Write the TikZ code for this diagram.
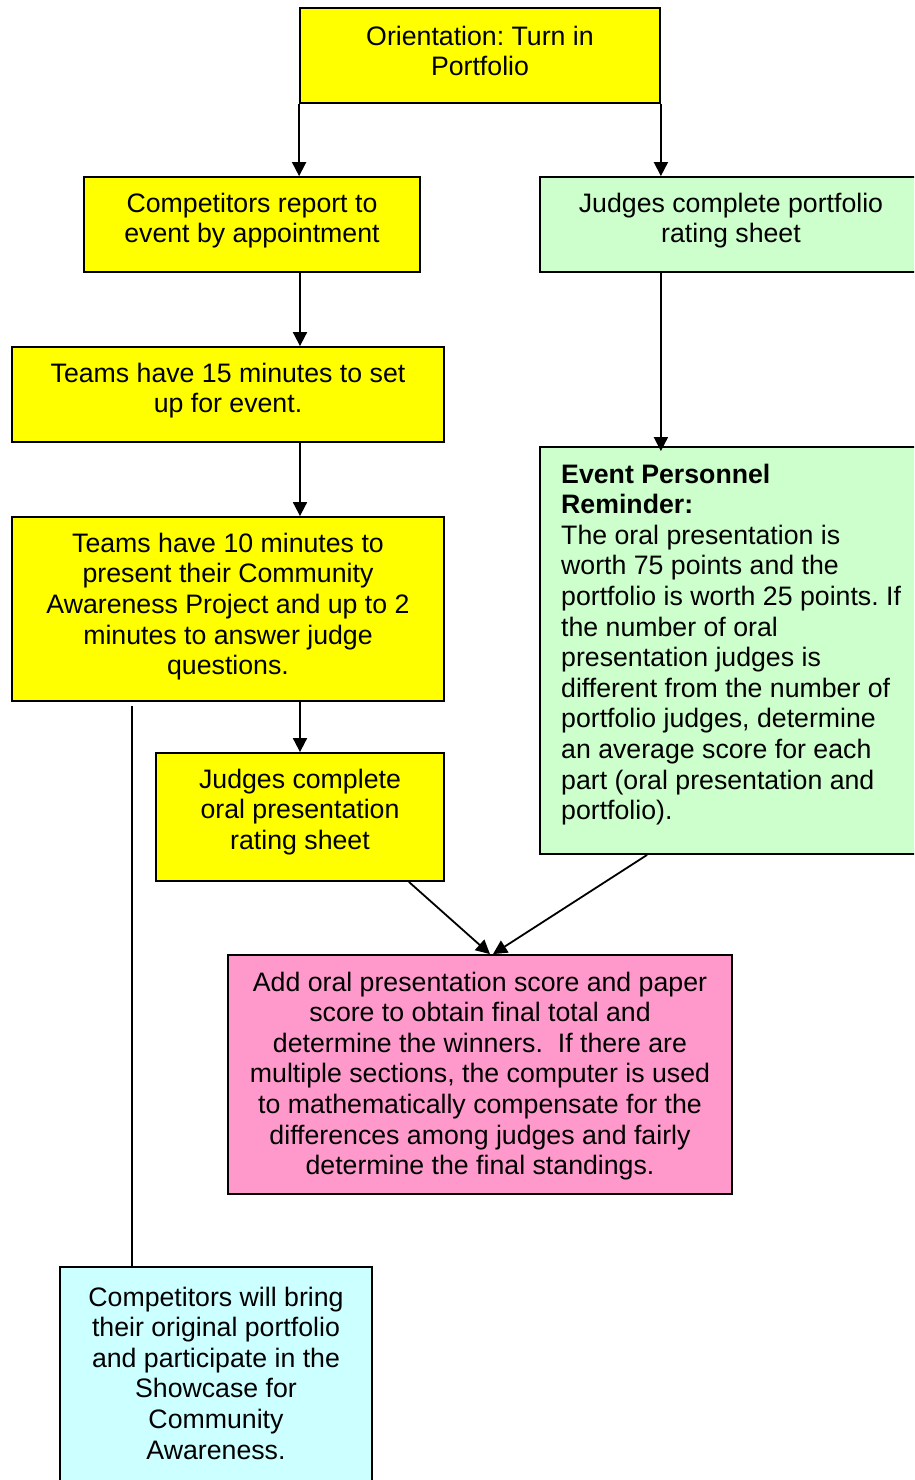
\documentclass[tikz,border=0pt]{standalone}
\usepackage{fontspec}
\setmainfont{Liberation Sans}
\usetikzlibrary{arrows.meta}
\frenchspacing
\definecolor{byellow}{HTML}{FFFF00}
\definecolor{bgreen}{HTML}{CCFFCC}
\definecolor{bpink}{HTML}{FF99CC}
\definecolor{bcyan}{HTML}{CCFFFF}
\tikzset{
  box/.style={draw=black, line width=1.8pt, rectangle, inner sep=0pt},
  txt/.style={font=\fontsize{26.7}{30.6}\selectfont\frenchspacing, align=center, inner sep=0pt},
  arr/.style={line width=1.8pt, -{Triangle[length=14pt,width=14pt]}},
  plain/.style={line width=1.8pt}
}
\begin{document}
\begin{tikzpicture}[x=1pt,y=-1pt]
\useasboundingbox (0,0) rectangle (914,1480);
\clip (0,0) rectangle (914,1480);
\fill[white] (0,0) rectangle (914,1480);
% boxes
\node[box, fill=byellow, minimum width=360pt, minimum height=95pt] (b1) at (480,55.5) {};
\node[box, fill=byellow, minimum width=336pt, minimum height=95pt] (b2) at (252,224.5) {};
\node[box, fill=bgreen, minimum width=382pt, minimum height=95pt] (b3) at (731,224.5) {};
\node[box, fill=byellow, minimum width=432pt, minimum height=95pt] (b4) at (228,394.5) {};
\node[box, fill=bgreen, minimum width=384pt, minimum height=407pt] (b5) at (732,650.5) {};
\node[box, fill=byellow, minimum width=432pt, minimum height=184pt] (b6) at (228,609) {};
\node[box, fill=byellow, minimum width=288pt, minimum height=128pt] (b7) at (300,817) {};
\node[box, fill=bpink, minimum width=504pt, minimum height=239pt] (b8) at (480,1074.5) {};
\node[box, fill=bcyan, minimum width=312pt, minimum height=223pt] (b9) at (216,1378.5) {};
% texts
\node[txt] (t1) at (480,51) {Orientation: Turn in\\Portfolio};
\node[txt] (t2) at (252,220.5) {Competitors report to\\event by appointment};
\node[txt] (t3) at (731,220.5) {Judges complete portfolio\\rating sheet};
\node[txt] (t4) at (228,390.5) {Teams have 15 minutes to set\\up for event.};
\node[txt, align=left, anchor=west] (t5) at (561,644.5) {\textbf{Event Personnel}\\\textbf{Reminder:}\\The oral presentation is\\worth 75 points and the\\portfolio is worth 25 points. If\\the number of oral\\presentation judges is\\different from the number of\\portfolio judges, determine\\an average score for each\\part (oral presentation and\\portfolio).};
\node[txt] (t6) at (228,606.5) {Teams have 10 minutes to\\present their Community\\Awareness Project and up to 2\\minutes to answer judge\\questions.};
\node[txt] (t7) at (300,812) {Judges complete\\oral presentation\\rating sheet};
\node[txt] (t8) at (480,1076) {Add oral presentation score and paper\\score to obtain final total and\\determine the winners.\ \ If there are\\multiple sections, the computer is used\\to mathematically compensate for the\\differences among judges and fairly\\determine the final standings.};
\node[txt] (t9) at (216,1373) {Competitors will bring\\their original portfolio\\and participate in the\\Showcase for\\Community\\Awareness.};
% connectors
\draw[arr] (b1.south west) -- (b2.north -| b1.south west);
\draw[arr] (b1.south east) -- (b3.north -| b1.south east);
\draw[arr] (b2.south -| b7.north) -- (b4.north -| b7.north);
\draw[arr] (b3.south -| b1.south east) -- ([yshift=-5pt]b5.north -| b1.south east);
\draw[arr] (b4.south -| b7.north) -- (b6.north -| b7.north);
\draw[arr] (b6.south -| b7.north) -- (b7.north);
\coordinate (c1) at (132,706);
\draw[plain] (c1) -- (c1 |- b9.north);
\draw[arr] ([xshift=-36pt]b7.south east) -- ([xshift=10pt]b8.north);
\draw[arr] ([xshift=108pt]b5.south west) -- ([xshift=13pt]b8.north);
\end{tikzpicture}
\end{document}
